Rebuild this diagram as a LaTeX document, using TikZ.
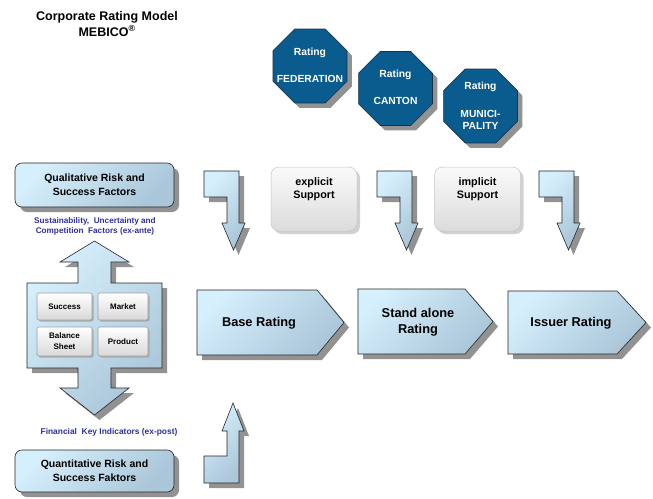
\documentclass[tikz,border=0pt]{standalone}
\usepackage{fontspec}
\setmainfont{Liberation Sans}
\usetikzlibrary{shapes.geometric,shadows}
\definecolor{lbA}{RGB}{214,239,253}
\definecolor{lbB}{RGB}{170,198,216}
\definecolor{octblue}{RGB}{10,92,142}
\definecolor{octline}{RGB}{25,45,70}
\definecolor{smallblue}{RGB}{48,48,160}
\definecolor{shadowgray}{RGB}{128,128,128}
\tikzset{
  shad/.style={drop shadow={shadow xshift=5pt,shadow yshift=-5pt,fill=shadowgray,opacity=0.85}},
  softshad/.style={drop shadow={shadow xshift=3pt,shadow yshift=-3pt,fill=gray!45,opacity=0.8}},
  bluefill/.style={draw=black!85,line width=0.6pt,top color=lbA,bottom color=lbB,shading angle=45,shad},
  bluebox/.style={bluefill,rounded corners=7pt,minimum width=159pt,inner sep=0pt,align=center,
    font=\fontsize{10.5}{14}\selectfont\bfseries},
  octo/.style={regular polygon,regular polygon sides=8,minimum size=80pt,inner sep=0pt,
    fill=octblue,draw=octline,line width=0.6pt,shad},
  octtext/.style={text=white,font=\fontsize{10.3}{12.5}\selectfont\bfseries,align=center,inner sep=0pt},
  btn/.style={draw=gray!75,line width=0.6pt,top color=white,bottom color=gray!30,rounded corners=2pt,
    drop shadow={shadow xshift=1.5pt,shadow yshift=-1.5pt,fill=gray!70,opacity=0.9},
    inner sep=0pt,align=center,font=\fontsize{8}{11}\selectfont\bfseries},
  supbox/.style={draw=gray!45,line width=0.5pt,top color=gray!4,bottom color=gray!28,rounded corners=8pt,
    softshad,inner sep=0pt,minimum width=86pt,minimum height=64pt},
  suptext/.style={font=\fontsize{10.8}{12.5}\selectfont\bfseries,align=center,inner sep=0pt},
  bigtext/.style={font=\fontsize{12.8}{16}\selectfont\bfseries,align=center,inner sep=0pt},
  smalltext/.style={text=smallblue,font=\fontsize{8.2}{10}\selectfont\bfseries,align=center,inner sep=0pt},
}
\begin{document}
\begin{tikzpicture}[x=1pt,y=-1pt]
\useasboundingbox[fill=white] (0,0) rectangle (653,498);

% title
\node[font=\fontsize{12.5}{15.5}\selectfont\bfseries,align=center,inner sep=0pt] (title) at (107,24)
  {Corporate Rating Model\\MEBICO\textsuperscript{®}};

% octagons
\node[octo] (fed) at (310,66) {};
\node[octtext] (fedA) at (310,53) {Rating};
\node[octtext] (fedB) at (310,79) {FEDERATION};
\node[octo] (can) at (395.5,88.5) {};
\node[octtext] (canA) at (395.5,75) {Rating};
\node[octtext] (canB) at (395.5,101) {CANTON};
\node[octo] (mun) at (480.5,106) {};
\node[octtext] (munA) at (480.5,87) {Rating};
\node[octtext] (munB) at (480.5,120) {MUNICI-\\PALITY};

% support boxes
\node[supbox] (expl) at (314,199) {};
\node[suptext] (explt) at (314,189) {explicit\\Support};
\node[supbox] (impl) at (477.5,199) {};
\node[suptext] (implt) at (477.5,189) {implicit\\Support};

% bent down arrows
\foreach \bx in {204,377,539}{
  \path[bluefill] (\bx,171) -- (\bx+35,171) -- (\bx+35,223) -- (\bx+41,223) -- (\bx+29.5,250)
    -- (\bx+18,223) -- (\bx+23,223) -- (\bx+23,197) -- (\bx,197) -- cycle;
}
% bent up arrow
\path[bluefill] (204,483) -- (239,483) -- (239,431) -- (244,431) -- (233,403) -- (222,431)
  -- (227,431) -- (227,456) -- (204,456) -- cycle;

% qualitative / quantitative boxes
\node[bluebox,minimum height=44pt] (qual) at (94.5,185) {Qualitative Risk and\\Success Factors};
\node[bluebox,minimum height=42pt] (quant) at (94.5,471) {Quantitative Risk and\\Success Faktors};
\node[smalltext] (sust) at (95,226.5) {Sustainability,\ \ Uncertainty\ and\\Competition\ \ Factors\ (ex-ante)};
\node[smalltext,font=\fontsize{8.4}{10}\selectfont\bfseries] (fin) at (109,432) {Financial\ \ Key\ Indicators\ (ex-post)};

% big double arrow with box
\path[bluefill] (94.5,241) -- (129,262) -- (111,262) -- (111,283) -- (162,283) -- (162,368)
  -- (111,368) -- (111,388) -- (129,388) -- (94.5,415) -- (60,388) -- (78,388) -- (78,368)
  -- (27,368) -- (27,283) -- (78,283) -- (78,262) -- (60,262) -- cycle;
\node[btn,minimum width=55pt,minimum height=27pt] (succ) at (64.5,306.5) {Success};
\node[btn,minimum width=50pt,minimum height=27pt] (mark) at (123,306.5) {Market};
\node[btn,minimum width=55pt,minimum height=29pt] (bal) at (64.5,341.5) {Balance\\Sheet};
\node[btn,minimum width=50pt,minimum height=29pt] (prod) at (123,341.5) {Product};

% pentagon arrows
\path[bluefill] (197,290) -- (317,290) -- (344,322.5) -- (317,355) -- (197,355) -- cycle;
\node[bigtext] (base) at (259,323) {Base Rating};
\path[bluefill] (358,289) -- (465,289) -- (493,321.5) -- (465,354) -- (358,354) -- cycle;
\node[bigtext] (stand) at (418,322.5) {Stand alone\\Rating};
\path[bluefill] (508,291) -- (617,291) -- (646,322.5) -- (617,354) -- (508,354) -- cycle;
\node[bigtext] (issuer) at (571,323) {Issuer Rating};
\end{tikzpicture}
\end{document}
